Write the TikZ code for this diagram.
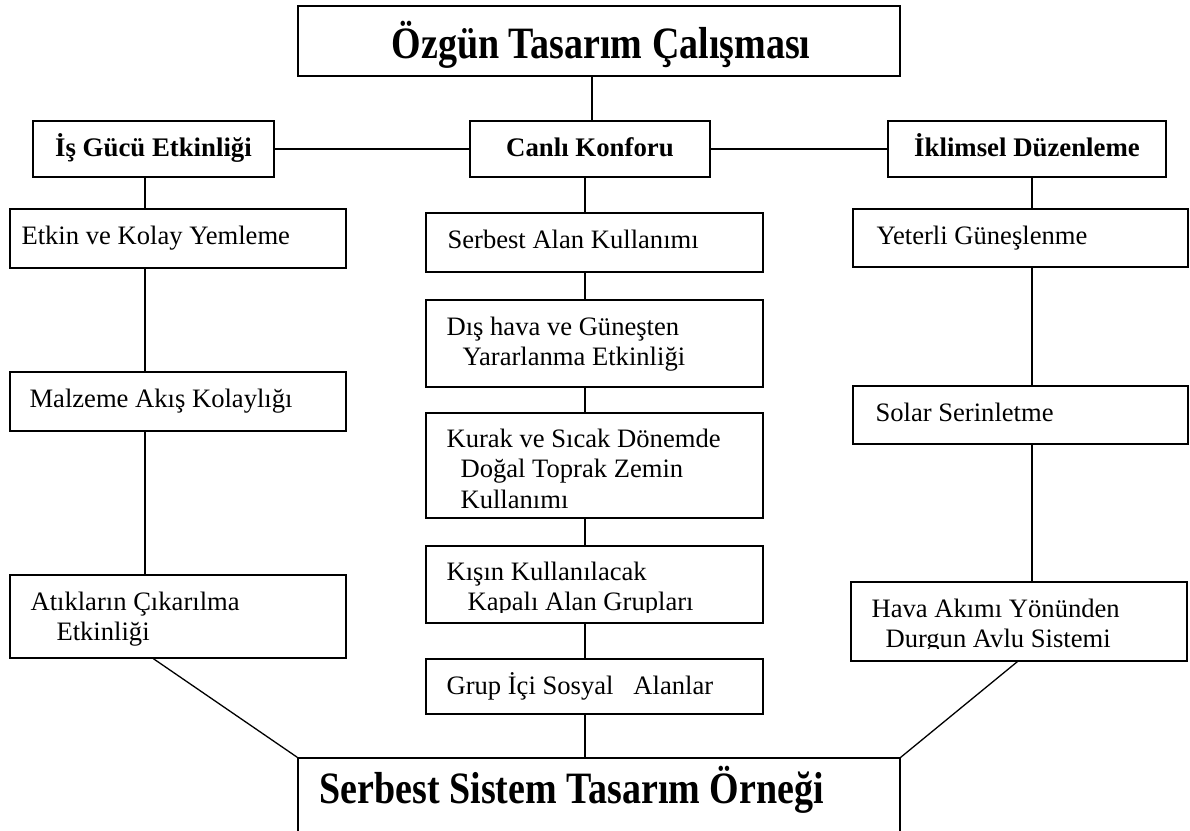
\documentclass[tikz,border=0pt]{standalone}
\usepackage{fontspec}
\setmainfont{Liberation Serif}
\usetikzlibrary{calc}
\newcommand{\boxtxt}[1]{\parbox[t]{330pt}{\raggedright #1}}
\newcommand{\tallbig}[1]{\scalebox{1}[1.18]{#1}}
\begin{document}
\begin{tikzpicture}[x=1pt,y=-1pt,
  frame/.style={draw, line width=1.3pt, rectangle, inner sep=0pt},
  conn/.style={draw, line width=1.3pt},
  body/.style={inner sep=0pt, anchor=base west, font=\fontsize{26.6}{30.5}\selectfont},
  head/.style={inner sep=0pt, anchor=base, font=\fontsize{26.8}{30.5}\selectfont\bfseries},
  big/.style={inner sep=0pt, font=\fontsize{38}{44}\selectfont\bfseries}]
\clip (0,0) rectangle (1190,830);
\fill[white] (0,0) rectangle (1190,830);

% boxes: name, x1, y1, x2, y2
\newcommand{\bx}[5]{\node[frame, minimum width={#4-#2}, minimum height={#5-#3}] (#1) at ({(#2+#4)/2},{(#3+#5)/2}) {};}
\bx{top}{298}{6}{900}{76}
\bx{isg}{33}{121}{274}{177}
\bx{can}{470}{121}{710}{177}
\bx{ikl}{888}{121}{1166}{177}
\bx{etk}{10}{209}{346}{268}
\bx{sal}{426}{213}{763}{272}
\bx{yet}{853}{209}{1188}{267}
\bx{dis}{426}{300}{763}{387}
\bx{mal}{10}{372}{346}{431}
\bx{sol}{853}{386}{1188}{444}
\bx{kur}{426}{413}{763}{518}
\bx{kis}{426}{546}{763}{623}
\bx{atk}{10}{575}{346}{658}
\bx{hav}{851}{582}{1187}{661}
\bx{grp}{426}{659}{763}{714}
\bx{ssd}{298}{758}{900}{900}

% texts
\node[big, anchor=base] (topT) at ($(top.north)+(2,53)$) {\tallbig{Özgün Tasarım Çalışması}};
\node[head] (isgT) at ($(isg.north)+(0,36)$) {İş Gücü Etkinliği};
\node[head] (canT) at ($(can.north)+(0,36)$) {Canlı Konforu};
\node[head] (iklT) at ($(ikl.north)+(0,36)$) {İklimsel Düzenleme};
\node[body] (etkT) at ($(etk.north west)+(12,36)$) {\boxtxt{Etkin ve Kolay Yemleme}};
\node[body] (salT) at ($(sal.north west)+(22,36)$) {\boxtxt{Serbest Alan Kullanımı}};
\node[body] (yetT) at ($(yet.north west)+(24,36)$) {\boxtxt{Yeterli Güneşlenme}};
\node[body] (disT) at ($(dis.north west)+(21,36)$) {\boxtxt{Dış hava ve Güneşten\\\hspace*{16pt}Yararlanma Etkinliği}};
\node[body] (malT) at ($(mal.north west)+(20,36)$) {\boxtxt{Malzeme Akış Kolaylığı}};
\node[body] (solT) at ($(sol.north west)+(23,36)$) {\boxtxt{Solar Serinletme}};
\node[body] (kurT) at ($(kur.north west)+(21,35)$) {\boxtxt{Kurak ve Sıcak Dönemde\\\hspace*{14pt}Doğal Toprak Zemin\\\hspace*{14pt}Kullanımı}};
\begin{scope}
\clip ($(kis.north west)+(1,1)$) rectangle ($(kis.north east)+(-1,67)$);
\node[body] (kisT) at ($(kis.north west)+(21,35)$) {\boxtxt{Kışın Kullanılacak\\\hspace*{21pt}Kapalı Alan Grupları}};
\end{scope}
\node[body] (atkT) at ($(atk.north west)+(21,36)$) {\boxtxt{Atıkların Çıkarılma\\\hspace*{26pt}Etkinliği}};
\begin{scope}
\clip ($(hav.north west)+(1,1)$) rectangle ($(hav.north east)+(-1,67)$);
\node[body] (havT) at ($(hav.north west)+(21,36)$) {\boxtxt{Hava Akımı Yönünden\\\hspace*{14pt}Durgun Avlu Sistemi}};
\end{scope}
\node[body] (grpT) at ($(grp.north west)+(21,36)$) {\boxtxt{Grup İçi Sosyal\ \ \ Alanlar}};
\node[big, anchor=base west] (ssdT) at ($(ssd.north west)+(22,46)$) {\tallbig{Serbest Sistem Tasarım Örneği}};

% column lines
\coordinate (colT) at (592,0);
\coordinate (colL) at (145,0);
\coordinate (colC) at (585,0);
\coordinate (colR) at (1032,0);

\draw[conn] (top.south -| colT) -- (can.north -| colT);
\draw[conn] (isg.east) -- (can.west);
\draw[conn] (can.east) -- (ikl.west);

\draw[conn] (isg.south -| colL) -- (etk.north -| colL);
\draw[conn] (etk.south -| colL) -- (mal.north -| colL);
\draw[conn] (mal.south -| colL) -- (atk.north -| colL);

\draw[conn] (can.south -| colC) -- (sal.north -| colC);
\draw[conn] (sal.south -| colC) -- (dis.north -| colC);
\draw[conn] (dis.south -| colC) -- (kur.north -| colC);
\draw[conn] (kur.south -| colC) -- (kis.north -| colC);
\draw[conn] (kis.south -| colC) -- (grp.north -| colC);
\draw[conn] (grp.south -| colC) -- (ssd.north -| colC);

\draw[conn] (ikl.south -| colR) -- (yet.north -| colR);
\draw[conn] (yet.south -| colR) -- (sol.north -| colR);
\draw[conn] (sol.south -| colR) -- (hav.north -| colR);

\draw[conn] ($(atk.south west)+(144,0)$) -- (ssd.north west);
\draw[conn] ($(hav.south west)+(167,0)$) -- (ssd.north east);
\end{tikzpicture}
\end{document}
